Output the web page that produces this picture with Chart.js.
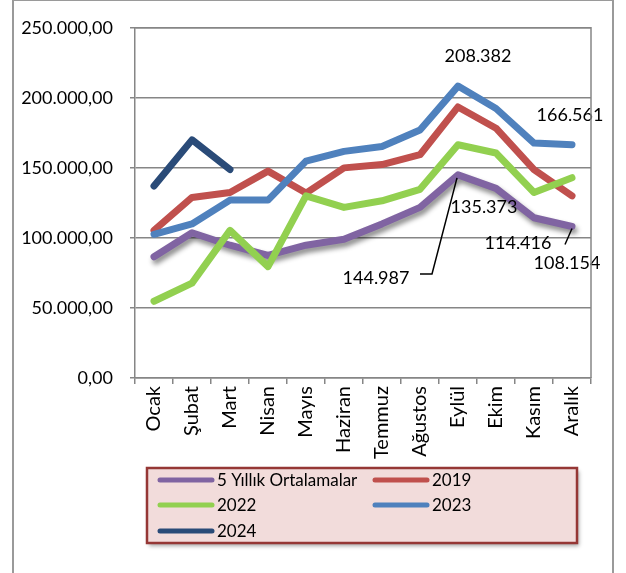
<!DOCTYPE html>
<html>
<head>
<meta charset="utf-8">
<script src="https://cdn.jsdelivr.net/npm/chart.js@4/dist/chart.umd.min.js"></script>
<style>
  html, body { margin: 0; padding: 0; background: #fff; }
  #wrap { width: 626px; height: 573px; position: relative; }
</style>
</head>
<body>
<div id="wrap"><canvas id="chart" width="626" height="573"></canvas></div>
<script>
const months = ['Ocak', 'Şubat', 'Mart', 'Nisan', 'Mayıs', 'Haziran', 'Temmuz', 'Ağustos', 'Eylül', 'Ekim', 'Kasım', 'Aralık'];
const seriesNames = ['5 Yıllık Ortalamalar', '2019', '2022', '2023', '2024'];
const avg5 = [86500, 103700, 94800, 87500, 94800, 99000, 110000, 121800, 144987, 135373, 114416, 108154];
const y2019 = [105400, 128900, 132400, 147700, 132000, 150000, 152400, 159400, 193500, 178300, 148800, 130000];
const y2022 = [54800, 67700, 105400, 79500, 130000, 121800, 126500, 134700, 166500, 160600, 132400, 143000];
const y2023 = [102600, 110000, 127000, 127000, 154800, 161800, 165300, 177000, 208382, 192400, 167700, 166561];
const y2024 = [137000, 170000, 148800];
const yTicks = [0, 50000, 100000, 150000, 200000, 250000];

const colors = ['#8064a2', '#c0504d', '#92d050', '#4f81bd', '#2a4b78'];
const FONT = 'Lato';

function thousands(n) {
  return Math.round(n).toString().replace(/\B(?=(\d{3})+(?!\d))/g, '.');
}
function money(n) {
  return thousands(n) + ',00';
}

// value labels: [dataset, point, dx, dy, leader]
const valueLabels = [
  [3, 8, 20, -30, null],
  [3, 11, -2, -29, null],
  [0, 9, -12, 19, null],
  [0, 10, -16, 25, null],
  [0, 11, -5, 37, [[-7, 18], [0, 2]]],
  [0, 8, -82, 103, [[-38, 99], [-26, 99], [-1, 3]]]
];

const labelPlugin = {
  id: 'valueLabels',
  afterDatasetsDraw(chart) {
    const ctx = chart.ctx;
    ctx.save();
    ctx.font = '18px ' + FONT;
    ctx.fillStyle = '#000';
    ctx.textAlign = 'center';
    ctx.textBaseline = 'middle';
    valueLabels.forEach(([ds, i, dx, dy, leader]) => {
      const pt = chart.getDatasetMeta(ds).data[i];
      const v = chart.data.datasets[ds].data[i];
      ctx.fillText(thousands(v), pt.x + dx, pt.y + dy);
      if (leader) {
        ctx.beginPath();
        ctx.strokeStyle = '#000';
        ctx.lineWidth = 1.5;
        leader.forEach(([lx, ly], k) => {
          if (k === 0) ctx.moveTo(pt.x + lx, pt.y + ly);
          else ctx.lineTo(pt.x + lx, pt.y + ly);
        });
        ctx.stroke();
      }
    });
    ctx.restore();
  }
};

const shadowPlugin = {
  id: 'lineShadow',
  beforeDatasetDraw(chart, args) {
    if (args.index !== 0) return;
    const ctx = chart.ctx;
    ctx.save();
    ctx.shadowColor = 'rgba(0,0,0,0.45)';
    ctx.shadowBlur = 5;
    ctx.shadowOffsetX = 2;
    ctx.shadowOffsetY = 4;
  },
  afterDatasetDraw(chart, args) {
    if (args.index !== 0) return;
    chart.ctx.restore();
  }
};

const framePlugin = {
  id: 'frame',
  afterDraw(chart) {
    const ctx = chart.ctx;
    const a = chart.chartArea;
    ctx.save();
    ctx.strokeStyle = '#868686';
    ctx.lineWidth = 1.5;
    ctx.beginPath();
    ctx.moveTo(a.left, a.top);
    ctx.lineTo(a.right, a.top);
    ctx.lineTo(a.right, a.bottom);
    ctx.stroke();
    // outer chart border
    ctx.strokeStyle = '#9a9a9a';
    ctx.lineWidth = 2;
    ctx.strokeRect(13, 0, 600, 590);
    ctx.restore();
  }
};

const legendPlugin = {
  id: 'boxLegend',
  afterDraw(chart) {
    const ctx = chart.ctx;
    const box = { x: 147, y: 468, w: 430, h: 75 };
    ctx.save();
    ctx.shadowColor = 'rgba(0,0,0,0.35)';
    ctx.shadowBlur = 4;
    ctx.shadowOffsetX = 2;
    ctx.shadowOffsetY = 3;
    ctx.fillStyle = '#f2dcdb';
    ctx.fillRect(box.x, box.y, box.w, box.h);
    ctx.restore();
    ctx.save();
    ctx.strokeStyle = '#953735';
    ctx.lineWidth = 2.5;
    ctx.strokeRect(box.x, box.y, box.w, box.h);
    ctx.font = '17px ' + FONT;
    ctx.fillStyle = '#000';
    ctx.textBaseline = 'middle';
    ctx.lineCap = 'round';
    ctx.lineWidth = 5;
    const cols = [158, 373];
    const rows = [480, 505, 531];
    chart.data.datasets.forEach((ds, i) => {
      const x = cols[i % 2];
      const y = rows[Math.floor(i / 2)];
      ctx.strokeStyle = ds.borderColor;
      ctx.beginPath();
      ctx.moveTo(x + 2, y);
      ctx.lineTo(x + 54, y);
      ctx.stroke();
      ctx.fillText(ds.label, x + 59, y + 1);
    });
    ctx.restore();
  }
};

const series = [avg5, y2019, y2022, y2023, y2024];
const datasets = series.map((d, i) => ({
  label: seriesNames[i],
  data: d,
  borderColor: colors[i],
  backgroundColor: colors[i],
  borderWidth: 7,
  borderCapStyle: 'round',
  borderJoinStyle: 'round',
  pointRadius: 0,
  tension: 0,
  fill: false,
  order: 5 - i
}));

new Chart(document.getElementById('chart'), {
  type: 'line',
  data: { labels: months, datasets },
  options: {
    responsive: false,
    animation: false,
    events: [],
    layout: { padding: { top: 23, right: 35, left: 0, bottom: 0 } },
    plugins: {
      legend: { display: false },
      tooltip: { enabled: false }
    },
    scales: {
      x: {
        offset: true,
        grid: {
          offset: true,
          drawOnChartArea: false,
          drawTicks: true,
          tickLength: 6,
          color: '#868686',
          lineWidth: 1.5
        },
        border: { color: '#868686', width: 1.5 },
        ticks: {
          autoSkip: false,
          maxRotation: 90,
          minRotation: 90,
          padding: 2,
          color: '#000',
          font: { family: FONT, size: 20 }
        },
        afterFit(scale) { scale.height = 195; }
      },
      y: {
        min: 0,
        max: 250000,
        afterBuildTicks(scale) { scale.ticks = yTicks.map(v => ({ value: v })); },
        grid: { color: '#868686', lineWidth: 1.5, tickLength: 5 },
        border: { color: '#868686', width: 1.5 },
        ticks: {
          padding: 17,
          color: '#000',
          font: { family: FONT, size: 18 },
          callback: v => money(v)
        },
        afterFit(scale) { scale.width = 135; }
      }
    }
  },
  plugins: [shadowPlugin, labelPlugin, framePlugin, legendPlugin]
});
</script>
</body>
</html>
